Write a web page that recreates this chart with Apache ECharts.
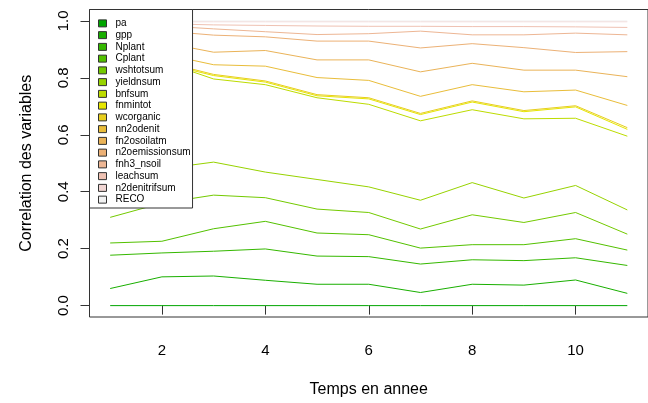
<!DOCTYPE html>
<html>
<head>
<meta charset="utf-8">
<script src="https://cdn.jsdelivr.net/npm/echarts@6/dist/echarts.min.js"></script>
<style>html,body{margin:0;padding:0;background:#fff}#c{width:648px;height:403px}</style>
</head>
<body>
<div id="c"></div>
<script>
const years = [1, 2, 3, 4, 5, 6, 7, 8, 9, 10, 11];
const xTicks = [2, 4, 6, 8, 10];
const yTicks = [0, 0.2, 0.4, 0.6, 0.8, 1.0];
const seriesNames = ['pa', 'gpp', 'Nplant', 'Cplant', 'wshtotsum', 'yieldnsum', 'bnfsum', 'fnmintot',
  'wcorganic', 'nn2odenit', 'fn2osoilatm', 'n2oemissionsum', 'fnh3_nsoil', 'leachsum', 'n2denitrifsum', 'RECO'];

const pa = [0, 0, 0, 0, 0, 0, 0, 0, 0, 0, 0];
const gpp = [0.060, 0.101, 0.104, 0.089, 0.075, 0.075, 0.046, 0.075, 0.072, 0.090, 0.043];
const Nplant = [0.177, 0.185, 0.191, 0.199, 0.174, 0.172, 0.146, 0.161, 0.158, 0.168, 0.141];
const Cplant = [0.220, 0.226, 0.270, 0.296, 0.255, 0.249, 0.202, 0.214, 0.214, 0.235, 0.195];
const wshtotsum = [0.310, 0.360, 0.388, 0.379, 0.339, 0.327, 0.269, 0.319, 0.292, 0.327, 0.251];
const yieldnsum = [0.430, 0.480, 0.504, 0.469, 0.443, 0.417, 0.370, 0.432, 0.378, 0.422, 0.336];
const bnfsum = [0.870, 0.858, 0.796, 0.776, 0.730, 0.707, 0.649, 0.688, 0.656, 0.658, 0.595];
const fnmintot = [0.875, 0.852, 0.808, 0.785, 0.737, 0.726, 0.671, 0.715, 0.681, 0.698, 0.619];
const wcorganic = [0.880, 0.857, 0.812, 0.789, 0.741, 0.730, 0.675, 0.719, 0.685, 0.702, 0.625];
const nn2odenit = [0.905, 0.885, 0.846, 0.841, 0.801, 0.791, 0.735, 0.776, 0.751, 0.757, 0.703];
const fn2osoilatm = [0.940, 0.925, 0.890, 0.896, 0.863, 0.863, 0.821, 0.851, 0.827, 0.827, 0.804];
const n2oemissionsum = [0.975, 0.965, 0.950, 0.944, 0.929, 0.929, 0.905, 0.920, 0.906, 0.889, 0.892];
const fnh3_nsoil = [0.990, 0.983, 0.972, 0.962, 0.952, 0.955, 0.964, 0.951, 0.951, 0.957, 0.951];
const leachsum = [0.995, 0.990, 0.986, 0.984, 0.982, 0.981, 0.981, 0.980, 0.980, 0.979, 0.977];
const n2denitrifsum = [0.997, 0.997, 0.997, 0.997, 0.997, 0.997, 0.997, 0.997, 0.997, 0.997, 0.997];
const RECO = [1, 1, 1, 1, 1, 1, 1, 1, 1, 1, 1];

const seriesValues = [pa, gpp, Nplant, Cplant, wshtotsum, yieldnsum, bnfsum, fnmintot,
  wcorganic, nn2odenit, fn2osoilatm, n2oemissionsum, fnh3_nsoil, leachsum, n2denitrifsum, RECO];

// terrain.colors(16)
const colors = ['#00A600', '#19AF00', '#35B800', '#53C100', '#73CA00', '#97D300', '#BDDC00', '#E6E600',
  '#E7CE1D', '#E9BD3A', '#EAB358', '#ECB176', '#EDB694', '#EFC2B3', '#F1D6D3', '#F2F2F2'];

const FONT = '"Liberation Sans", Arial, sans-serif';

const chart = echarts.init(document.getElementById('c'), null, {renderer: 'canvas'});
chart.setOption({
  animation: false,
  backgroundColor: '#fff',
  grid: {
    left: 89.5, top: 9.5, width: 569, height: 310.5,
    show: true, borderColor: '#333', borderWidth: 1, backgroundColor: 'transparent',
    containLabel: false
  },
  xAxis: {
    type: 'value', min: 0.6, max: 11.4,
    axisLine: {show: false},
    splitLine: {show: false},
    axisTick: {show: true, length: 9, customValues: xTicks, lineStyle: {color: '#333'}},
    axisLabel: {customValues: xTicks, margin: 26, fontSize: 15, color: '#000', fontFamily: FONT},
    name: 'Temps en annee', nameLocation: 'middle', nameGap: 65,
    nameTextStyle: {fontSize: 16, color: '#000', fontFamily: FONT}
  },
  yAxis: {
    type: 'value', min: -0.04, max: 1.04,
    axisLine: {show: false},
    splitLine: {show: false},
    axisTick: {show: true, length: 9, customValues: yTicks, lineStyle: {color: '#333'}},
    axisLabel: {customValues: yTicks, rotate: 90, margin: 18, fontSize: 15, color: '#000', fontFamily: FONT,
      formatter: v => Number(v).toFixed(1)},
    name: 'Correlation des variables', nameLocation: 'middle', nameGap: 55, nameRotate: 90,
    nameTextStyle: {fontSize: 16, color: '#000', fontFamily: FONT}
  },
  legend: {
    orient: 'vertical', left: 89.5, top: 9.5,
    data: seriesNames,
    icon: 'rect', itemWidth: 8, itemHeight: 7, itemGap: 0,
    itemStyle: {borderColor: '#333', borderWidth: 1},
    textStyle: {fontSize: 10, color: '#000', fontFamily: FONT, lineHeight: 11.75, padding: [0, 0, 0, 4]},
    padding: [8, 2, 2.5, 8.5],
    backgroundColor: '#fff', borderColor: '#333', borderWidth: 1, borderRadius: 0,
    selectedMode: false, z: 10
  },
  series: seriesNames.map((name, i) => ({
    name: name,
    type: 'line',
    data: years.map((x, j) => [x, seriesValues[i][j]]),
    color: colors[i],
    symbol: 'none',
    lineStyle: {width: 1, color: colors[i]},
    itemStyle: {color: colors[i]},
    z: 2
  }))
});
</script>
</body>
</html>
